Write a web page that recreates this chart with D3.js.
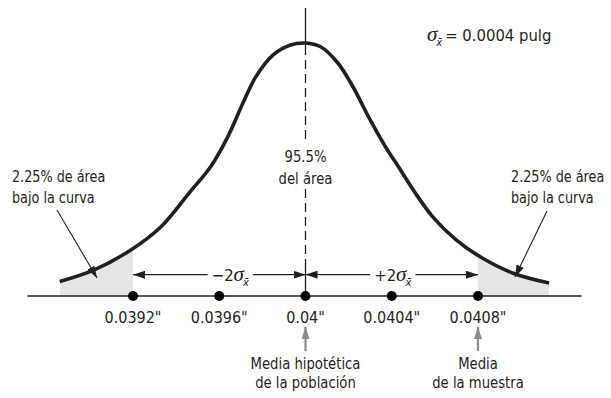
<!DOCTYPE html>
<html><head><meta charset="utf-8">
<script src="https://cdn.jsdelivr.net/npm/d3@7"></script>
<style>
body{margin:0;background:#fff;}
text{font-family:"Liberation Sans Narrow","DejaVu Sans Condensed","Arial Narrow",sans-serif;fill:#231f20;}
</style></head><body>
<svg id="c" width="611" height="398"></svg>
<script>
// ---- data ----
const tickValues = [0.0392, 0.0396, 0.0400, 0.0404, 0.0408];
const tickLabels = ['0.0392"', '0.0396"', '0.04"', '0.0404"', '0.0408"'];
const curveX = [0.03886, 0.03902, 0.03919, 0.03933, 0.03946, 0.03956, 0.03964, 0.03971, 0.03977, 0.03985, 0.03993, 0.04000,
                0.04007, 0.04015, 0.04022, 0.04030, 0.04038, 0.04042, 0.04050, 0.04059, 0.04070, 0.04081, 0.04096, 0.04113];
const curveY = [0.057, 0.103, 0.182, 0.274, 0.407, 0.511, 0.630, 0.763, 0.867, 0.953, 0.992, 1.000,
                0.985, 0.921, 0.827, 0.696, 0.577, 0.526, 0.419, 0.313, 0.221, 0.155, 0.091, 0.051];
const populationMean = 0.0400;
const sampleMean = 0.0408;
const lowerBound = 0.0392;
const upperBound = 0.0408;
const axisExtent = [0.03871, 0.04128];
const sigmaText = "= 0.0004 pulg";
const centerLabel = ["95.5%", "del área"];
const tailLabel = ["2.25% de área", "bajo la curva"];
const popLabel = ["Media hipotética", "de la población"];
const sampleLabel = ["Media", "de la muestra"];

// ---- scales ----
const svg = d3.select("#c");
const x = d3.scaleLinear().domain([0.0392, 0.0408]).range([133, 478]);
const y = d3.scaleLinear().domain([0, 1]).range([296, 43]);
const pts = curveX.map((v, i) => [v, curveY[i]]);
const ink = "#231f20", gray = "#8d8d8f";
const FS = 16.5;

const defs = svg.append("defs");
function marker(id, color) {
  defs.append("marker").attr("id", id).attr("viewBox", "0 0 12 8").attr("refX", 12).attr("refY", 4)
    .attr("markerWidth", 12).attr("markerHeight", 8).attr("markerUnits", "userSpaceOnUse").attr("orient", "auto")
    .append("path").attr("d", "M0,0 L12,4 L0,8 Z").attr("fill", color);
}
marker("ah", ink);
marker("ahg", gray);
defs.append("clipPath").attr("id", "clipL").append("rect")
  .attr("x", x(curveX[0])).attr("y", 0).attr("width", x(lowerBound) - x(curveX[0])).attr("height", 400);
defs.append("clipPath").attr("id", "clipR").append("rect")
  .attr("x", x(upperBound)).attr("y", 0).attr("width", x(curveX[curveX.length - 1]) - x(upperBound)).attr("height", 400);

// shaded tails
const area = d3.area().x(d => x(d[0])).y0(y(0)).y1(d => y(d[1])).curve(d3.curveCatmullRom);
svg.append("path").attr("d", area(pts)).attr("fill", "#e5e5e7").attr("clip-path", "url(#clipL)");
svg.append("path").attr("d", area(pts)).attr("fill", "#e5e5e7").attr("clip-path", "url(#clipR)");

// vertical line at mean
const xm = x(populationMean);
const vseg = [[8, 46, null], [46, 142, "9,5"], [189, 262, "9,5"], [262, 296, null]];
vseg.forEach(s => {
  svg.append("line").attr("x1", xm).attr("x2", xm).attr("y1", s[0]).attr("y2", s[1])
    .attr("stroke", ink).attr("stroke-width", 1.3).attr("stroke-dasharray", s[2]);
});

// curve
const line = d3.line().x(d => x(d[0])).y(d => y(d[1])).curve(d3.curveCatmullRom);
svg.append("path").attr("d", line(pts)).attr("fill", "none").attr("stroke", ink).attr("stroke-width", 3.6);

// axis
svg.append("line").attr("x1", x(axisExtent[0])).attr("x2", x(axisExtent[1])).attr("y1", y(0)).attr("y2", y(0))
  .attr("stroke", ink).attr("stroke-width", 1.3);
svg.selectAll("circle.t").data(tickValues).enter().append("circle")
  .attr("cx", d => x(d)).attr("cy", y(0)).attr("r", 5).attr("fill", "#000");
svg.selectAll("text.t").data(tickLabels).enter().append("text").attr("class", "tk")
  .attr("x", (d, i) => x(tickValues[i])).attr("y", 323).attr("text-anchor", "middle").attr("font-size", FS).text(d => d);

// sigma label builder
function sigmaLabel(g, prefix, cx, yb) {
  const t = g.append("text").attr("x", cx).attr("y", yb).attr("font-size", FS).attr("text-anchor", "middle");
  if (prefix) t.append("tspan").text(prefix);
  t.append("tspan").attr("font-family", "'Liberation Serif','Times New Roman',serif").attr("font-style", "italic")
    .attr("font-size", 21).text("σ");
  t.append("tspan").attr("font-style", "italic").attr("font-size", 11).attr("dy", 5).attr("dx", -1).text("x\u0304");
  return t;
}

// ±2σ arrows
const ay = 274.7;
function dimArrow(x0, x1, prefix, cx) {
  const g = svg.append("g");
  const t = sigmaLabel(g, prefix, cx, 281);
  const bb = t.node().getBBox();
  g.append("line").attr("x1", bb.x - 4).attr("x2", x0).attr("y1", ay).attr("y2", ay)
    .attr("stroke", ink).attr("stroke-width", 1.2).attr("marker-end", "url(#ah)");
  g.append("line").attr("x1", bb.x + bb.width + 4).attr("x2", x1).attr("y1", ay).attr("y2", ay)
    .attr("stroke", ink).attr("stroke-width", 1.2).attr("marker-end", "url(#ah)");
}
dimArrow(x(lowerBound), xm, "\u22122", (x(lowerBound) + xm) / 2 + 11);
dimArrow(xm, x(sampleMean), "+2", (xm + x(sampleMean)) / 2 + 1);

// sigma definition at top
const sigTop = svg.append("text").attr("x", 427).attr("y", 40.5).attr("font-size", FS);
sigTop.append("tspan").attr("font-family", "'Liberation Serif','Times New Roman',serif").attr("font-style", "italic")
  .attr("font-size", 21).text("σ");
sigTop.append("tspan").attr("font-style", "italic").attr("font-size", 11).attr("dy", 5).attr("dx", -1).text("x\u0304");
sigTop.append("tspan").attr("dy", -5).attr("dx", 3).text(sigmaText);

// center label
centerLabel.forEach((s, i) => svg.append("text").attr("class", "c").attr("x", xm).attr("y", 162 + i * 22.5)
  .attr("text-anchor", "middle").attr("font-size", FS).text(s));

// tail labels
[12, 511].forEach(lx => tailLabel.forEach((s, i) => svg.append("text").attr("class", "c").attr("x", lx).attr("y", 182 + i * 21.5)
  .attr("font-size", 16).text(s)));
svg.append("line").attr("x1", 57).attr("y1", 210).attr("x2", 97).attr("y2", 278)
  .attr("stroke", ink).attr("stroke-width", 1.1).attr("marker-end", "url(#ah)");
svg.append("line").attr("x1", 547).attr("y1", 211).attr("x2", 515).attr("y2", 277)
  .attr("stroke", ink).attr("stroke-width", 1.1).attr("marker-end", "url(#ah)");

// mean pointers
[[populationMean, popLabel], [sampleMean, sampleLabel]].forEach(([v, lab]) => {
  svg.append("line").attr("x1", x(v)).attr("x2", x(v)).attr("y1", 351).attr("y2", 327)
    .attr("stroke", gray).attr("stroke-width", 2.2).attr("marker-end", "url(#ahg)");
  lab.forEach((s, i) => svg.append("text").attr("class", "c").attr("x", x(v)).attr("y", 369 + i * 19)
    .attr("text-anchor", "middle").attr("font-size", FS).text(s));
});

// condense glyphs horizontally (about each text's anchor) to mimic a condensed face
function squeeze(sel, k) {
  sel.each(function () {
    const ax = +this.getAttribute("x");
    d3.select(this).attr("transform", `translate(${ax * (1 - k)},0) scale(${k},1)`);
  });
}
squeeze(svg.selectAll("text.c"), 0.89);
squeeze(svg.selectAll("text.tk"), 0.97);
</script></body></html>
